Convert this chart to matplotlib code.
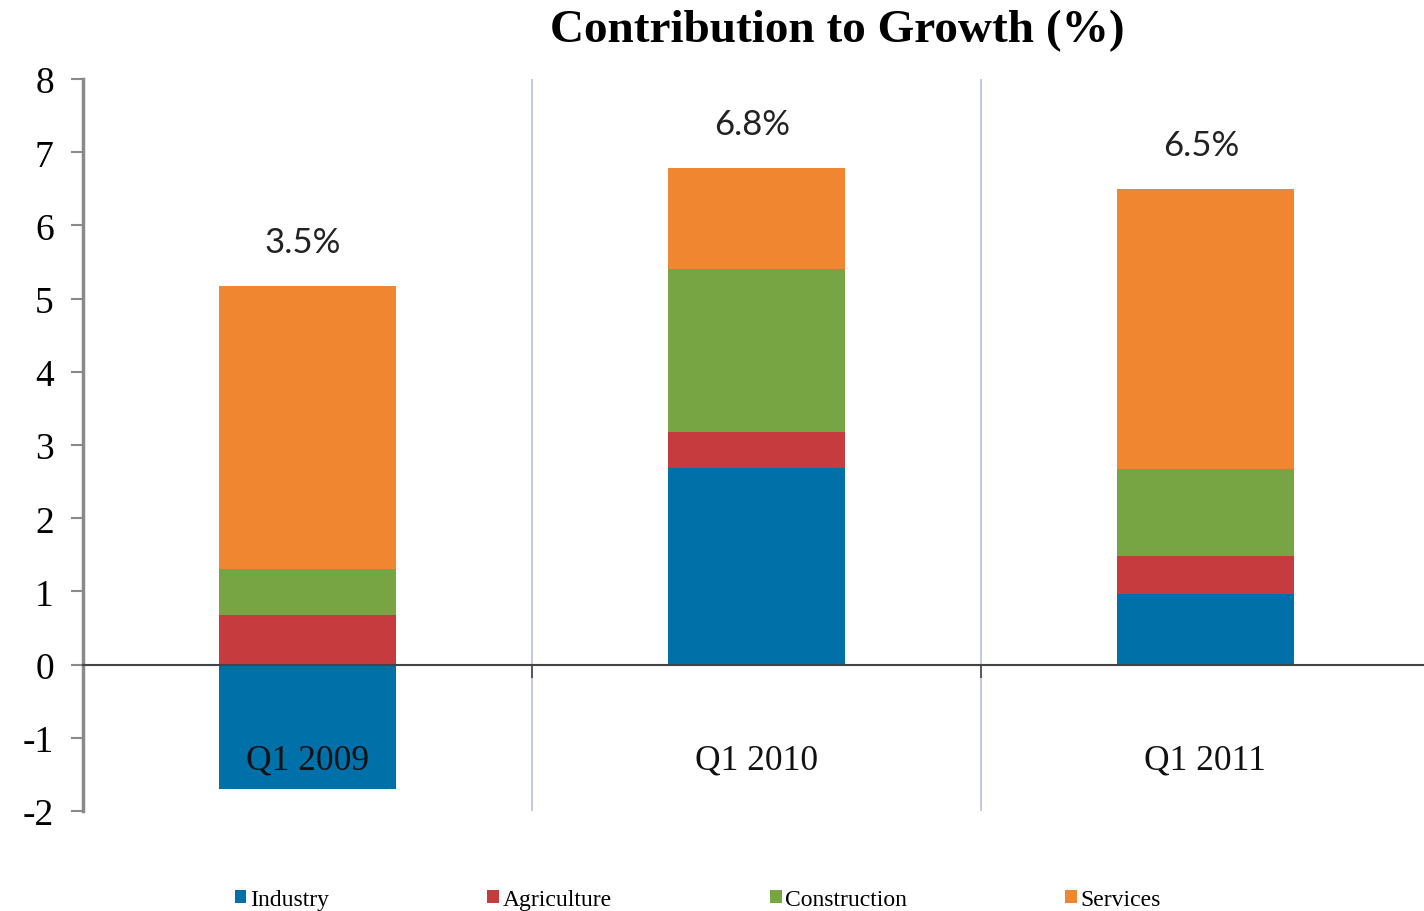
import numpy as np
import matplotlib
matplotlib.use("Agg")
from matplotlib import pyplot as plt

# data
quarters = ["Q1 2009", "Q1 2010", "Q1 2011"]
growth_labels = ["3.5%", "6.8%", "6.5%"]
industry = [-1.70, 2.68, 0.96]
agriculture = [0.68, 0.50, 0.52]
construction = [0.62, 2.22, 1.19]
services = [3.87, 1.38, 3.83]

sectors = ["Industry", "Agriculture", "Construction", "Services"]
colors = ["#0070A8", "#C63C3E", "#78A543", "#F0862F"]

serif = ["Liberation Serif", "DejaVu Serif"]
plt.rcParams["axes.unicode_minus"] = False

fig = plt.figure(figsize=(14.24, 9.12), dpi=100)
ax = fig.add_axes([0.0583, 0.1096, 0.9417, 0.8026])

x = np.arange(len(quarters))
width = 0.395

# industry can be negative, the other segments stack from zero upward
ind = np.array(industry)
pos_base = np.clip(ind, 0, None)
ax.bar(x, ind, width, color=colors[0], label=sectors[0], zorder=2)
base = pos_base.copy()
for vals, col, name in zip([agriculture, construction, services], colors[1:], sectors[1:]):
    ax.bar(x, vals, width, bottom=base, color=col, label=name, zorder=2)
    base = base + np.array(vals)

for xi, lab, top in zip(x, growth_labels, base):
    ax.text(xi - 0.01, top + 0.6, lab, ha="center", va="center",
            fontsize=25, family="Lato", color="#222222")

for xi, q in zip(x, quarters):
    ax.text(xi, -1.3, q, ha="center", va="center", fontsize=25.5,
            family=serif, color="#111111", zorder=3)

# thin separators between the quarters
for sep in [0.5, 1.5]:
    ax.plot([sep, sep], [-2, 8], color="#B4C2D6", lw=1.2, zorder=1)

ax.set_xlim(-0.5, 2.487)
ax.set_ylim(-2, 8)
ax.set_yticks(range(-2, 9))
ax.set_xticks([0.5, 1.5])
ax.set_xticklabels([])

ax.spines[["top", "right"]].set_visible(False)
ax.spines["bottom"].set_position(("data", 0))
ax.spines["bottom"].set_color("#444444")
ax.spines["bottom"].set_linewidth(1.5)
ax.spines["bottom"].set_zorder(3)
ax.spines["left"].set_color("#8A8A8A")
ax.spines["left"].set_linewidth(2.5)
ax.tick_params(axis="y", direction="out", length=9, width=1.5, color="#8A8A8A",
               labelsize=27, pad=12)
ax.tick_params(axis="x", direction="out", length=9, width=1.2, color="#444444")
for t in ax.get_yticklabels():
    t.set_family(serif)

fig.text(0.588, 0.966, "Contribution to Growth (%)", ha="center", va="center",
         fontsize=34, fontweight="bold", family=serif)

leg = fig.legend(loc="center", bbox_to_anchor=(0.49, 0.013), ncol=4, frameon=False,
                 prop={"family": serif, "size": 17}, handlelength=0.5,
                 handleheight=0.5, handletextpad=0.15, columnspacing=6.7)

fig.savefig("out.png", dpi=100)
